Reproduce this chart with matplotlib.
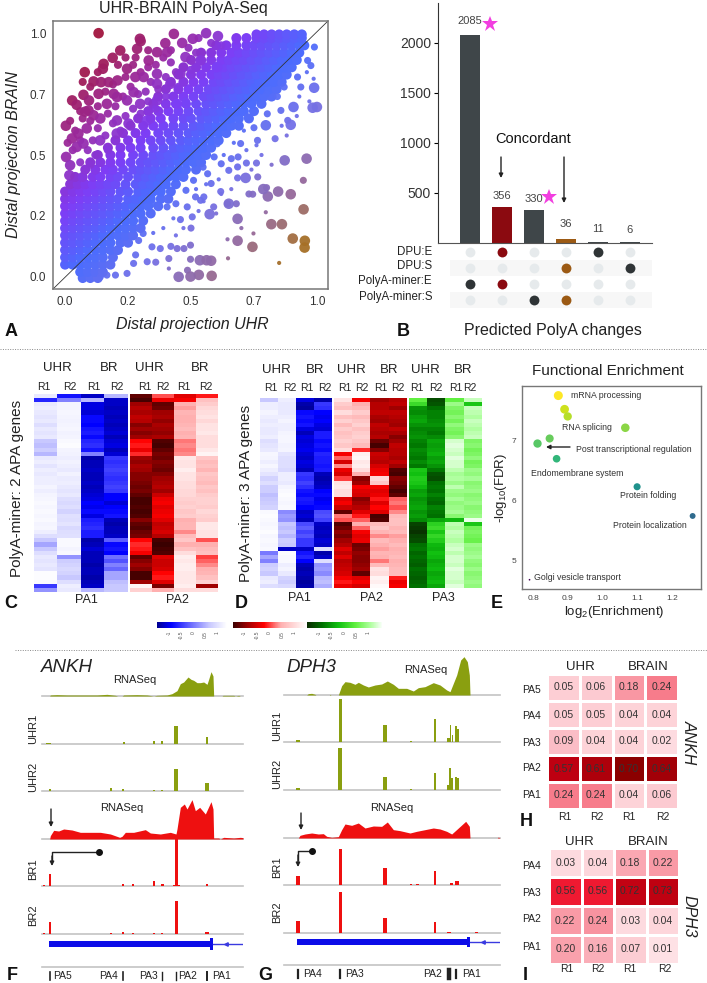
import numpy as np
import matplotlib
matplotlib.use('Agg')
import matplotlib.pyplot as plt
from matplotlib.colors import LinearSegmentedColormap, Normalize
from matplotlib.cm import ScalarMappable

plt.rcParams['font.family'] = ['Liberation Sans', 'DejaVu Sans']
plt.rcParams['mathtext.default'] = 'regular'

W, H = 707, 983

# A: scatter. rows of the solid body first (y: x values)
body_rows = {
    -0.005: [.07, .10, .13],
    0.02: [.06, .09, .12, .15],
    0.05: [.0, .03, .06, .09, .12, .15, .18],
    0.08: [.0, .03, .06, .09, .12, .15, .19],
    0.11: [.0, .03, .06, .09, .12, .15, .18, .21],
    0.14: [.0, .03, .06, .09, .12, .15, .18, .22, .25],
    0.17: [.0, .03, .06, .09, .12, .15, .18, .21, .24, .27],
    0.20: [.0, .03, .06, .09, .12, .15, .18, .21, .24, .27, .30],
    0.23: [.0, .03, .06, .09, .12, .15, .18, .21, .24, .27, .31],
    0.26: [.0, .03, .06, .09, .12, .15, .18, .21, .24, .27, .30, .34],
    0.29: [.0, .03, .06, .09, .12, .15, .18, .21, .24, .27, .30, .33, .37],
    0.32: [.0, .03, .06, .09, .12, .15, .18, .21, .25, .28, .31, .34, .38, .41],
    0.35: [.0, .03, .06, .09, .12, .15, .18, .22, .25, .29, .32, .35, .38, .42],
    0.38: [.02, .05, .08, .11, .14, .17, .20, .24, .28, .31, .34, .37, .40, .44],
    0.41: [.04, .07, .11, .14, .18, .21, .25, .29, .32, .35, .38, .41, .44, .47],
    0.44: [.08, .12, .16, .19, .23, .27, .30, .33, .36, .39, .42, .45, .48, .52],
    0.47: [.10, .14, .18, .22, .26, .30, .33, .36, .39, .42, .45, .48, .51, .54],
    0.50: [.13, .18, .22, .27, .31, .35, .38, .41, .44, .47, .50, .53, .56],
    0.53: [.17, .22, .26, .30, .35, .39, .43, .46, .49, .52, .55, .58],
    0.56: [.20, .25, .30, .34, .38, .42, .46, .49, .52, .55, .58, .61],
    0.59: [.23, .28, .32, .37, .41, .45, .49, .52, .55, .58, .61, .64],
    0.62: [.26, .31, .35, .39, .43, .47, .51, .54, .57, .60, .63, .66, .69],
    0.65: [.29, .34, .38, .43, .47, .50, .54, .57, .60, .63, .66, .69, .73],
    0.68: [.33, .37, .41, .45, .49, .53, .56, .59, .62, .65, .68, .71, .75],
    0.71: [.35, .40, .44, .48, .52, .56, .59, .62, .65, .68, .71, .74, .78],
    0.74: [.37, .43, .47, .51, .55, .58, .61, .64, .67, .70, .73, .76, .79, .82],
    0.77: [.40, .45, .49, .53, .57, .60, .63, .66, .69, .72, .75, .78, .81, .84],
    0.80: [.42, .47, .51, .55, .59, .62, .65, .68, .71, .74, .77, .80, .83, .86],
    0.83: [.45, .50, .54, .58, .61, .64, .67, .70, .73, .76, .79, .82, .85, .88],
    0.86: [.47, .52, .56, .60, .63, .66, .69, .72, .75, .78, .81, .84, .87, .90],
    0.89: [.50, .54, .58, .62, .65, .68, .71, .74, .77, .80, .83, .86, .89, .92],
    0.92: [.54, .58, .62, .66, .69, .72, .75, .78, .81, .84, .87, .90, .93],
    0.95: [.60, .64, .68, .72, .75, .78, .81, .84, .87, .90, .93, .95],
    0.98: [.68, .72, .76, .79, .82, .85, .88, .91, .94],
    0.995: [.76, .79, .82, .85, .88, .91, .94],
}
big_pts = [(.133, 1.0), (.297, .977), (.30, .967), (.286, .936), (.219, .929), (.189, .899), (.153, .874), (.15, .854),
           (.078, .84), (.113, .802), (.143, .799), (.173, .799), (.073, .747), (.028, .724), (.046, .706), (.095, .724),
           (.133, .751), (.193, .751), (.003, .62), (.432, .997), (.398, .959), (.465, .96), (.365, .922), (.405, .922),
           (.507, .977), (.56, 1.0), (.607, .988), (.332, .888), (.246, .854), (.279, .82), (.208, .806), (.272, .758),
           (.206, .738), (.246, .724), (.093, .683), (.113, .663), (.08, .678), (.14, .65), (.086, .609), (.053, .588),
           (.027, .568), (.004, .492), (.02, .458), (.017, .417), (.046, .533), (.073, .547), (.139, .56), (.205, .588),
           (.252, .629), (.325, .642), (.365, .724), (.418, .792), (.458, .833), (.365, .833), (.478, .902), (.538, .888),
           (.604, .861), (.166, .71), (.312, .82), (.365, .792), (.445, .71), (.206, .642), (.298, .71),
           (.989, .776), (1.0, .697), (.983, .694), (.896, .624), (.797, .622), (.907, .697), (.872, .478), (.959, .485),
           (.896, .339), (.947, .277), (.861, .216), (.819, .216), (.685, .238), (.904, .157), (.952, .148), (.951, .12),
           (.744, .123), (.685, .148), (.58, .066), (.535, .068), (.562, .068), (.582, .004), (.531, .008), (.498, .001),
           (.451, .0), (.574, .257), (.65, .3), (.717, .406), (.805, .33), (.787, .36), (.846, .35)]
extra_pts = [(.06, .56), (.09, .52), (.12, .5), (.03, .52), (.06, .47), (.1, .46), (.14, .47), (.17, .52), (.2, .56), (.11, .56),
             (.16, .58), (.22, .6), (.19, .63), (.24, .66), (.27, .69), (.3, .67), (.13, .61), (.17, .67), (.2, .7), (.23, .74),
             (.26, .78), (.29, .75), (.32, .76), (.34, .8), (.3, .84), (.27, .87), (.33, .86), (.36, .87), (.39, .9), (.42, .88),
             (.37, .77), (.33, .72), (.1, .64), (.07, .65), (.24, .82), (.21, .87), (.24, .9), (.28, .9), (.33, .93), (.42, .93),
             (.44, .84), (.4, .82), (.4, .74), (.36, .69), (.49, .94), (.52, .92), (.13, .7), (.16, .76), (.19, .79), (.13, .84),
             (.1, .78), (.07, .8), (.06, .68), (.02, .64), (.04, .6), (.01, .55), (.5, .85), (.53, .98), (.58, .96), (.62, .95),
             (.68, .97), (.45, .78), (.48, .72)]
mid_pts = [(.99, .943), (.946, .396), (.834, .567), (.645, .3), (.498, .072), (.486, .027), (.412, .075), (.36, .06),
           (.326, .062), (.28, .09), (.272, .055), (.246, .014), (.2, .007), (.166, .007), (.14, .0), (.445, .116),
           (.472, .116), (.498, .13), (.42, .125), (.345, .123), (.378, .116), (.292, .149), (.31, .178), (.5, .2),
           (.458, .235), (.505, .246), (.538, .314), (.518, .328), (.485, .287), (.68, .3), (.73, .34), (.745, .339),
           (.8, .366), (.685, .406), (.765, .41), (.685, .451), (.65, .437), (.76, .467), (.72, .467), (.687, .492),
           (.66, .485), (.62, .464), (.592, .492), (.566, .423), (.548, .45), (.58, .383), (.59, .287), (.618, .35),
           (.551, .328), (.48, .355), (.44, .3), (.405, .287), (.348, .3), (.46, .41), (.51, .396), (.697, .547),
           (.764, .56), (.75, .612), (.803, .669), (.857, .683), (.884, .642), (.843, .74), (.763, .724), (.724, .656),
           (.67, .62), (.604, .546), (.644, .642), (.963, .888), (.976, .867), (.923, .82), (.87, .779), (.83, .806),
           (.883, .85), (.936, .779), (.8, .75), (.75, .78), (.7, .83)]
small_pts = [(.987, .813), (.797, .265), (.85, .057), (.645, .154), (.647, .076), (.748, .178), (.412, .034), (.7, .2),
             (.62, .34), (.56, .38), (.53, .27), (.47, .2), (.44, .17), (.39, .2), (.35, .18), (.61, .4), (.66, .36),
             (.74, .44), (.82, .46), (.78, .5), (.72, .52), (.67, .55), (.63, .5), (.88, .58), (.92, .66), (.93, .74),
             (.86, .62), (.76, .54), (.55, .31), (.6, .26), (.43, .24), (.52, .36), (.71, .6), (.96, .84), (.97, .72)]

# B: upset plot
upset_counts = [2085, 356, 330, 36, 11, 6]
upset_sets = ['DPU:E', 'DPU:S', 'PolyA-miner:E', 'PolyA-miner:S']
upset_members = [[2], [0, 2], [3], [1, 3], [0], [1]]
upset_colors = ['#3f4649', '#8b0a10', '#3f4649', '#9c5a14', '#3f4649', '#3f4649']
dot_colors = ['#2f3436', '#8b0a10', '#2f3436', '#9c5a14', '#2f3436', '#2f3436']
upset_ticks = [0, 500, 1000, 1500, 2000]

# C: row-wise z values (R1 R2 R1 R2)
c_pa1 = [[.8, -.5, -.8, .4], [-.4, .1, .4, -.8], [.8, .9, -.7, -.8], [.85, .9, -.7, -.85], [.8, .92, -.75, -.8],
         [.75, .9, -.55, -.85], [.8, .88, -.55, -.8], [.7, .9, -.6, -.85], [.8, .92, -.5, -.8], [.75, .88, -.45, -.75],
         [.8, .9, -.55, -.85], [.5, .95, -.4, -.75], [.45, .97, -.35, -.7], [.55, .9, -.5, -.85], [.4, .88, .1, -.75],
         [.8, .85, -.9, -.3], [.85, .88, -.85, -.35], [.75, .85, -.85, -.3], [.85, .8, -.8, -.25], [.8, .88, -.85, -.3],
         [.85, .82, -.85, -.35], [.85, .85, -.8, -.3], [.9, .8, -.85, -.25], [.85, .75, -.8, -.3], [.9, .8, -.75, -.6],
         [.92, .7, -.7, -.6], [.95, .65, -.6, -.75], [.92, .7, -.65, -.6], [.95, .6, -.55, -.55], [.92, .72, -.7, -.5],
         [.95, .7, -.45, -.85], [.9, .75, -.4, -.9], [.92, .65, -.35, -.85], [.85, .7, -.45, -.85], [.7, .72, -.45, -.8],
         [.5, .95, -.9, -.1], [.3, .95, -.85, -.55], [.5, .9, -.75, -.5], [.7, .93, -.85, -.6], [.8, .2, -.85, .0],
         [.75, .55, -.85, -.15], [.8, .6, -.9, .1], [.75, .65, -.85, -.05], [.97, .6, -.85, .3], [.97, .5, -.9, .3],
         [.95, .7, -.85, .45], [-.3, .85, -.8, .5], [.2, .8, .4, .5]]
c_pa2 = [[-.85, .05, -.3, -.1], [-.95, -.25, -.2, .45], [-.6, -.85, .3, .55], [-.5, -.8, .25, .65], [-.55, -.6, .35, .7],
         [-.45, -.55, .3, .75], [-.5, -.65, .3, .65], [-.7, -.55, .35, .75], [-.6, -.6, .4, .75], [-.7, -.65, .3, .8],
         [-.6, -.55, .35, .7], [-.15, -.9, .15, .7], [-.1, -.95, .2, .7], [-.25, -.85, .15, .8], [-.05, -.75, .2, .9],
         [-.6, -.8, .8, .5], [-.65, -.7, .75, .4], [-.55, -.75, .75, .45], [-.6, -.8, .85, .35], [-.7, -.7, .75, .5],
         [-.7, -.6, .75, .45], [-.75, -.55, .7, .4], [-.8, -.5, .7, .5], [-.75, -.6, .65, .45], [-.85, -.4, .65, .55],
         [-.95, -.25, .6, .6], [-.95, -.2, .55, .6], [-.9, -.3, .6, .55], [-.95, -.25, .5, .65], [-.9, -.2, .55, .6],
         [-.7, -.3, .3, .55], [-.85, -.45, .35, .8], [-.9, -.4, .35, .8], [-.8, -.35, .2, .75], [-.75, -.5, .4, .75],
         [-.15, -.95, .5, .05], [-.05, -1.0, .3, .3], [-.1, -.95, .45, .4], [-.2, -.9, .7, .45], [-.85, -.3, .85, .0],
         [-.7, -.4, .8, .1], [-.6, -.4, .85, .2], [-.7, -.35, .85, .3], [-.95, -.15, .8, .35], [-.95, -.1, .8, .45],
         [-.6, -.3, .8, .6], [.9, -.75, .85, -.6], [.6, .3, .7, .7]]

# D
d_pa1 = [[.5, .85, -.7, -.9], [.85, .8, -.9, -.3], [.85, .8, -.95, -.35], [.9, .8, -.55, -.6], [.85, .85, -.5, -.65],
         [.8, .9, -.55, -.6], [.85, .85, -.5, -.7], [.8, .85, -.7, -.75], [.8, .9, -.85, -.45], [.85, .92, -.7, -.45],
         [.7, .92, -.75, -.55], [.75, .88, -.7, -.5], [.8, .9, -.65, -.55], [.92, .75, -.75, -.4], [.9, .7, -.8, -.45],
         [.85, .7, -.7, -.45], [.92, .7, -.75, -.5], [.85, .65, -.85, -.45], [.75, .85, -.3, -.85], [.6, .85, -.35, -.9],
         [.7, .8, -.25, -.85], [.55, .9, -.35, -.8], [.55, .95, -.5, -.6], [.45, .97, -.55, -.55], [.5, .95, -.45, -.65],
         [.55, .92, -.5, -.6], [.6, .95, -.6, -.55], [.95, .15, -.8, -.2], [.97, .25, -.75, -.15], [.95, .2, -.85, -.25],
         [.92, .5, -.2, -.8], [.95, .45, -.1, -.85], [.97, .5, -.25, -.8], [.92, .4, -.15, -.85], [.95, .55, -.3, -.75],
         [.92, .5, -.3, -.8], [.95, -.8, -.8, .7], [.05, .97, -.5, -.9], [.3, .95, -.4, -.8], [.1, .95, -.6, .7],
         [.55, .85, -.85, .2], [.6, .9, -.9, .25], [.5, .8, -.85, .15], [.8, .6, -.9, .4], [.85, .55, -.95, .45], [.7, .65, -.9, .35]]
d_pa2 = [[.75, -.2, -.6, -.5], [.55, .3, -.5, -.45], [.45, .4, -.5, -.6], [.7, .55, -.45, -.45], [.45, .4, -.55, -.5],
         [.6, .5, -.6, -.55], [.4, .6, -.45, -.6], [.55, .45, -.5, -.45], [.45, .55, -.55, -.55], [.5, .6, -.5, -.7],
         [.6, .5, -.8, -.6], [.5, .4, -.95, -.45], [.7, -.05, -.7, -.5], [-.2, .85, -.4, -.5], [.1, .9, -.45, -.55],
         [-.35, .8, -.5, -.45], [.2, .85, -.35, -.6], [-.25, .7, -.25, -.9], [-.35, .3, -.2, -.95], [.0, -.7, .65, -.7],
         [.75, -.6, .5, -.75], [.8, -.2, -.2, -.85], [.7, -.3, -.3, -.95], [.7, -.35, -.25, -.85], [-.3, -.7, -.1, .1],
         [-.2, -.6, -.3, .15], [-.4, -.5, -.15, .05], [-.85, -.3, -.3, .2], [.15, -.1, -.95, .4], [.05, .1, -.9, .45],
         [-.9, .3, .4, .45], [-.8, .1, .5, .35], [-.65, -.2, .35, .4], [-.75, -.3, .2, .25], [-.6, -.25, .4, .3],
         [-.5, -.8, .3, .4], [-.3, -.75, .25, .3], [-.45, -.65, .35, .35], [-.3, -.7, .3, .4], [-.5, -.7, .15, .3],
         [-.45, -.65, .4, .35], [-.4, -.6, .75, .4], [-.35, -.85, .7, .4], [-.2, -.3, .9, -.1], [-.1, -.2, .85, -.25], [-.25, -.35, .95, -.2]]
d_pa3 = [[.3, -.8, .3, .8], [.1, -.75, .6, -.1], [-.4, -.6, .45, .8], [-.45, -.5, .4, .75], [-.35, -.5, .5, .7],
         [-.3, -.45, .4, .8], [-.4, -.4, .55, .75], [-.5, -.5, .45, .7], [-.45, -.55, .4, .75], [-.4, -.45, .5, .8],
         [-.5, -.3, .85, .45], [-.55, -.35, .9, .5], [-.45, -.3, .85, .4], [-.5, -.25, .8, .45], [-.55, -.35, .9, .55],
         [-.45, -.3, .85, .4], [-.55, -.4, .85, .45], [-.1, -.55, .75, .6], [-.15, -.75, .65, .55], [-.05, -.8, .7, .65],
         [-.1, -.6, .6, .5], [-.2, -.55, .75, .55], [-.35, -.6, .6, .6], [-.3, -.5, .55, .5], [-.4, -.6, .65, .55],
         [-.35, -.65, .55, .6], [-.3, -.5, .6, .5], [-.4, -.55, .65, .55], [-.35, -.6, .5, .6], [-.45, -.3, -.2, .95],
         [-.85, .0, .75, -.1], [-.9, .1, .7, .4], [-.95, -.1, .8, .45], [-.85, .05, .75, .4], [-.8, -.05, .7, .35],
         [-.6, -.2, .8, .6], [-.55, -.25, .85, .55], [-.65, -.15, .75, .6], [-.6, -.2, .85, .65], [-.65, -.3, .85, .55],
         [-.7, -.25, .8, .5], [-.6, -.2, .9, .6], [-.65, -.3, .85, .5], [-.7, -.25, .85, .55], [-.65, -.2, .8, .6], [-.6, -.3, .9, .55]]
heat_ticks = [-1, -0.5, 0, 0.5, 1]

# E: enrichment
enrich_x = [.873, .891, .90, 1.066, .848, .813, .868, 1.10, 1.26, .79]
enrich_y = [7.76, 7.53, 7.41, 7.22, 7.04, 6.955, 6.70, 6.23, 5.74, 4.67]
enrich_s = [42, 40, 36, 38, 34, 36, 30, 26, 18, 1.5]

# F/G: coverage (x position, height) and peaks (position, width, height), same units as the x range of the track
ankh_rna1_x = [148, 150, 170, 200, 250, 290, 320, 345, 352, 365, 370, 410, 440, 460, 470, 500, 515, 530, 540, 550, 563, 572,
               580, 590, 600, 610, 620, 625, 632, 638, 640, 665, 668, 700, 705, 715, 720]
ankh_rna1_y = [0, 3, 4, 3, 3, 3, 5, 2, 0, 0, 3, 4, 3, 0, 2, 3, 7, 16, 37, 42, 57, 50, 47, 40, 40, 42, 35, 50, 73, 60, 0, 0, 2, 2, 0, 2, 0]
ankh_rna2_x = [148, 150, 160, 175, 190, 215, 240, 270, 300, 330, 358, 365, 375, 400, 435, 450, 480, 510, 527, 530, 540, 552,
               560, 575, 585, 598, 615, 632, 638, 640, 655, 660, 670, 700, 720, 728]
ankh_rna2_y = [0, 10, 26, 24, 30, 27, 20, 20, 20, 15, 5, 8, 20, 20, 28, 18, 15, 20, 15, 30, 95, 105, 90, 118, 85, 95, 75, 112, 90, 3, 3, 0, 5, 3, 5, 4]
ankh_uhr1 = [(145, 15, 2), (370, 6, 7), (461, 6, 8), (485, 8, 8), (527, 10, 55), (620, 8, 22)]
ankh_uhr2 = [(150, 6, 6), (331, 6, 9), (369, 6, 6), (461, 6, 4), (485, 6, 4), (527, 10, 66), (620, 10, 25)]
ankh_br1 = [(131, 6, 4), (150, 6, 37), (369, 6, 7), (398, 5, 5), (461, 8, 16), (486, 8, 7), (528, 20, 3), (528, 10, 142), (620, 5, 7)]
ankh_br2 = [(131, 5, 3), (150, 6, 36), (331, 5, 2), (369, 6, 6), (398, 5, 4), (461, 6, 4), (486, 6, 3), (528, 10, 98), (620, 10, 6)]

dph3_rna1_x = [110, 115, 125, 135, 138, 178, 180, 183, 205, 215, 225, 240, 255, 265, 280, 295, 315, 335, 352, 370, 385, 410, 430,
               445, 465, 490, 510, 530, 540, 548, 560, 572, 582, 592, 598, 600]
dph3_rna1_y = [0, 4, 5, 2, 0, 0, 2, 0, 0, 28, 40, 38, 32, 38, 30, 24, 30, 33, 42, 32, 20, 20, 12, 22, 25, 37, 30, 15, 10, 30, 60, 105, 115, 100, 60, 0]
dph3_rna2_x = [85, 90, 105, 125, 145, 160, 170, 185, 205, 215, 225, 245, 265, 285, 310, 335, 352, 370, 390, 420, 440, 465, 490,
               510, 530, 545, 565, 587, 598, 600, 682, 685, 690]
dph3_rna2_y = [0, 8, 12, 15, 12, 13, 5, 2, 4, 25, 42, 38, 45, 30, 36, 35, 48, 25, 22, 15, 20, 25, 30, 27, 20, 12, 30, 50, 35, 0, 0, 3, 0]
dph3_uhr1 = [(84, 10, 6), (211, 10, 130), (346, 12, 50), (422, 6, 3), (495, 8, 70), (536, 8, 12), (541, 5, 50), (547, 5, 20), (558, 8, 48), (563, 6, 40)]
dph3_uhr2 = [(84, 10, 7), (211, 12, 125), (346, 12, 38), (422, 6, 4), (495, 8, 50), (536, 8, 15), (540, 5, 65), (546, 5, 35), (558, 8, 40), (563, 6, 35)]
dph3_br1 = [(84, 10, 28), (212, 10, 108), (346, 12, 52), (422, 7, 3), (442, 10, 3), (495, 8, 42), (544, 10, 5), (560, 12, 11)]
dph3_br2 = [(84, 10, 37), (212, 10, 122), (346, 12, 45), (495, 8, 32), (537, 10, 4), (620, 8, 3)]

# H/I
ankh_labels = ['PA5', 'PA4', 'PA3', 'PA2', 'PA1']
ankh_usage = [[.05, .06, .18, .24], [.05, .05, .04, .04], [.09, .04, .04, .02], [.57, .61, .70, .64], [.24, .24, .04, .06]]
dph3_labels = ['PA4', 'PA3', 'PA2', 'PA1']
dph3_usage = [[.03, .04, .18, .22], [.56, .56, .72, .73], [.22, .24, .03, .04], [.20, .16, .07, .01]]
reps = ['R1', 'R2', 'R1', 'R2']

fig = plt.figure(figsize=(W / 100, H / 100), dpi=100)


def ax_px(x0, y0, x1, y1, **kw):
    return fig.add_axes([x0 / W, 1 - y1 / H, (x1 - x0) / W, (y1 - y0) / H], **kw)


ov = ax_px(0, 0, W, H, zorder=20)
ov.set_xlim(0, W)
ov.set_ylim(H, 0)
ov.axis('off')
ov.patch.set_alpha(0)


def txt(x, y, s, size=8, ha='center', va='center', **kw):
    kw.setdefault('color', '#222222')
    ov.text(x, y, s, fontsize=size, ha=ha, va=va, **kw)


def arrow(x0, y0, x1, y1, lw=1.0, head=6):
    ov.annotate('', xy=(x1, y1), xytext=(x0, y0),
                arrowprops=dict(arrowstyle='-|>', color='#222222', lw=lw, mutation_scale=head, shrinkA=0, shrinkB=0))


def letter(x, y, s):
    txt(x, y, s, size=13, fontweight='bold', color='#111111')


# ---- A
ax = ax_px(53, 21, 328, 289)
diag_cmap = LinearSegmentedColormap.from_list('diag', [(0.0, '#a8701a'), (0.1, '#a5702a'), (0.22, '#96689a'), (0.36, '#7470e6'),
                                                       (0.5, '#4a6cff'), (0.64, '#7f3cf5'), (0.76, '#9a2aa0'), (0.88, '#a01a50'),
                                                       (1.0, '#a30f28')])
bx = [x for y in body_rows for x in body_rows[y]]
by = [y for y in body_rows for x in body_rows[y]]
groups = [(bx, by, 52, 1.0),
          ([p[0] for p in extra_pts], [p[1] for p in extra_pts], 34, 0.95),
          ([p[0] for p in mid_pts], [p[1] for p in mid_pts], 26, 0.95),
          ([p[0] for p in small_pts], [p[1] for p in small_pts], 9, 0.95),
          ([p[0] for p in big_pts], [p[1] for p in big_pts], 58, 0.95)]
for gx, gy, s, al in groups:
    gx, gy = np.array(gx), np.array(gy)
    ax.scatter(gx, gy, s=s, c=gy - gx, cmap=diag_cmap, vmin=-1, vmax=1, alpha=al, linewidths=0)
ax.plot([0, 1], [0, 1], transform=ax.transAxes, color='#333333', lw=0.6)
ax.set_xlim(-0.048, 1.044)
ax.set_ylim(-0.05, 1.05)
ax.set_xticks([0, .25, .5, .75, 1])
ax.set_xticklabels(['0.0', '0.2', '0.5', '0.7', '1.0'])
ax.set_yticks([0, .25, .5, .75, 1])
ax.set_yticklabels(['0.0', '0.2', '0.5', '0.7', '1.0'])
ax.tick_params(length=0, labelsize=8.5, labelcolor='#333333', pad=5)
for sp in ax.spines.values():
    sp.set_color('#777777')
    sp.set_linewidth(1.1)
txt(183, 9, 'UHR-BRAIN PolyA-Seq', size=11.5)
txt(192, 325, 'Distal projection UHR', size=11.5, style='italic')
txt(14, 155, 'Distal projection BRAIN', size=11.5, style='italic', rotation=90)
letter(11, 332, 'A')

# ---- B
ax = ax_px(438, 3, 652, 243)
ax.bar(range(6), upset_counts, width=0.6, color=upset_colors)
ax.set_xlim(-1, 5.69)
ax.set_ylim(0, 2400)
ax.set_yticks(upset_ticks[1:])
ax.set_xticks([])
ax.tick_params(axis='y', labelsize=10, labelcolor='#333333', length=3, width=0.8, pad=2)
for sp in ['top', 'right']:
    ax.spines[sp].set_visible(False)
ax.spines['left'].set_color('#333333')
ax.spines['bottom'].set_color('#555555')
for i, v in enumerate(upset_counts):
    off = {0: 130, 1: 110, 2: 115, 3: 150, 4: 125, 5: 125}[i]
    ax.text(i, v + off, str(v), ha='center', va='center', fontsize=8, color='#444444')
ax.plot([0.63, 2.47], [2190, 465], ls='', marker='*', ms=12, color='#f23ee0', mew=0)

ax = ax_px(438, 245, 652, 308)
ax.set_xlim(-1, 5.69)
ax.set_ylim(3.5, -0.45)
ax.axis('off')
for r in [1, 3]:
    ax.axhspan(r - 0.48, r + 0.48, xmin=(450 - 438) / 214, color='#f7f7f7', lw=0)
for c in range(6):
    ax.scatter([c] * 4, range(4), s=50, color='#e6eaec', linewidths=0)
    ax.scatter([c] * len(upset_members[c]), upset_members[c], s=50, color=dot_colors[c], linewidths=0)
for r, lab in zip([252, 266, 281, 297], upset_sets):
    txt(432, r, lab, size=8.3, ha='right')
txt(533, 139, 'Concordant', size=10.5, color='#111111')
arrow(501, 157, 501, 178)
arrow(564, 157, 564, 203)
txt(553, 331, 'Predicted PolyA changes', size=11.5)
letter(403, 332, 'B')

# dotted separators
ov.plot([0, W], [349, 349], color='#888888', lw=0.7, ls=(0, (1, 1.5)))
ov.plot([15, W], [650, 650], color='#888888', lw=0.7, ls=(0, (1, 1.5)))

# ---- C, D
blue_cmap = LinearSegmentedColormap.from_list('b', [(0, '#000090'), (.2, '#0000ff'), (.5, '#7070ff'), (.75, '#c8c8ff'), (1, '#ffffff')])
red_cmap = LinearSegmentedColormap.from_list('r', [(0, '#3a0000'), (.2, '#a00000'), (.42, '#ff0000'), (.65, '#ffb0b0'), (1, '#ffffff')])
green_cmap = LinearSegmentedColormap.from_list('g', [(0, '#0a2a00'), (.2, '#007000'), (.42, '#10c010'), (.65, '#60f040'), (.85, '#b0ffa0'), (1, '#f8fff8')])


def heat(x0, y0, x1, y1, data, cmap):
    a = ax_px(x0, y0, x1, y1)
    a.imshow(np.array(data), cmap=cmap, vmin=-1, vmax=1, aspect='auto', interpolation='nearest')
    a.axis('off')


heat(34, 394, 128, 592, c_pa1, blue_cmap)
heat(129.5, 394, 217, 592, c_pa2, red_cmap)
heat(260, 398, 332, 588, d_pa1, blue_cmap)
heat(334, 398, 407, 588, d_pa2, red_cmap)
heat(409, 398, 482, 588, d_pa3, green_cmap)

for x, s in zip([57, 109, 149, 200], ['UHR', 'BR', 'UHR', 'BR']):
    txt(x, 368, s, size=9.5)
for x, s in zip([44, 70, 94, 117, 145, 163, 184, 206], reps * 2):
    txt(x, 387, s, size=7.5)
txt(17, 488, 'PolyA-miner: 2 APA genes', size=11, rotation=90)
txt(86, 600, 'PA1', size=9)
txt(177, 600, 'PA2', size=9)
for x, s in zip([276, 315, 351, 389, 425, 463], ['UHR', 'BR', 'UHR', 'BR', 'UHR', 'BR']):
    txt(x, 370, s, size=9.5)
for x, s in zip([271, 290, 307, 325, 345, 362, 381, 398, 417, 436, 456, 470], reps * 3):
    txt(x, 388, s, size=7.5)
txt(246, 493, 'PolyA-miner: 3 APA genes', size=11, rotation=90)
txt(299, 598, 'PA1', size=9)
txt(371, 598, 'PA2', size=9)
txt(443, 598, 'PA3', size=9)
letter(11, 604, 'C')
letter(241, 604, 'D')
letter(497, 604, 'E')

# colour keys
for x0, x1, cm, lo, hi in [(157, 227, blue_cmap, -1.5, 1.4), (233, 307, red_cmap, -1.45, 1.5), (307, 382, green_cmap, -1.5, 1.55)]:
    cax = ax_px(x0, 622, x1, 628)
    cb = fig.colorbar(ScalarMappable(Normalize(lo, hi), cm), cax=cax, orientation='horizontal')
    cb.set_ticks(heat_ticks)
    cb.set_ticklabels(['-1', '-0.5', '0', '0.5', '1'])
    cb.ax.tick_params(length=0, labelsize=3.5, labelrotation=90, pad=2, labelcolor='#555555')
    cb.outline.set_visible(False)

# ---- E
ax = ax_px(522, 386, 701, 589)
ax.scatter(enrich_x, enrich_y, s=enrich_s, c=enrich_y, cmap='viridis', vmin=4.67, vmax=7.76, linewidths=0)
ax.set_xlim(0.8 - 11 / 347, 0.8 + 168 / 347)
ax.set_ylim(5 - 29 / 59.75, 7 + 55 / 59.75)
ax.set_xticks([.8, .9, 1.0, 1.1, 1.2])
ax.set_yticks([5, 6, 7])
ax.tick_params(length=0, labelsize=6, labelcolor='#444444', pad=4)
for sp in ax.spines.values():
    sp.set_color('#777777')
    sp.set_linewidth(1.0)
txt(608, 371, 'Functional Enrichment', size=11)
txt(614, 612, 'log$_2$(Enrichment)', size=9.5)
txt(501, 488, '-log$_{10}$(FDR)', size=9.5, rotation=90)
for x, y, s in [(571, 395, 'mRNA processing'), (562, 428, 'RNA splicing'), (576, 449, 'Post transcriptional regulation'),
                (531, 474, 'Endomembrane system'), (620, 496, 'Protein folding'), (613, 525, 'Protein localization'),
                (534, 577, 'Golgi vesicle transport')]:
    txt(x, y, s, size=6.3, ha='left', color='#333333')
arrow(570, 447, 546, 447, lw=1.0)


# ---- F, G tracks
def track(x0, x1, y0, y1, xr, base_col='#c4c4c4'):
    a = ax_px(x0, y0, x1, y1)
    a.set_xlim(*xr)
    a.set_ylim(0, (y1 - y0) * 3)
    a.axis('off')
    a.axhline(0, color=base_col, lw=1.2, zorder=1, clip_on=False)
    return a


def peaks(a, data, color):
    for p, w, h in data:
        a.bar(p, h, width=w, color=color, linewidth=0, zorder=2)


olive, red = '#8a9f10', '#ee1010'
fr = (125, 728)
a = track(42, 243, 655, 696, fr)
a.fill_between(ankh_rna1_x, ankh_rna1_y, color=olive, lw=0, zorder=2)
a = track(42, 243, 700, 744, fr)
peaks(a, ankh_uhr1, olive)
a = track(42, 243, 750, 791, fr)
peaks(a, ankh_uhr2, olive)
a = track(42, 243, 798, 839, fr)
a.fill_between(ankh_rna2_x, ankh_rna2_y, color=red, lw=0, zorder=2)
a = track(42, 243, 839, 886, fr)
peaks(a, ankh_br1, red)
a = track(42, 243, 895, 934, fr)
peaks(a, ankh_br2, red)

a = track(42, 243, 936, 967, fr)
a.barh(69, 632 - 147, left=147, height=20, color='#0c0ce8', lw=0)
a.barh(69, 9, left=630, height=34, color='#0c0ce8', lw=0)
a.plot([638, 726], [69, 69], color='#3a3ae0', lw=1)
a.plot([678], [69], marker='<', ms=2.5, color='#3a3ae0')

gr = (42, 690)
a = track(284, 500, 650, 695, gr)
a.fill_between(dph3_rna1_x, dph3_rna1_y, color=olive, lw=0, zorder=2)
a = track(284, 500, 696, 742, gr)
peaks(a, dph3_uhr1, olive)
a = track(284, 500, 748, 790, gr)
peaks(a, dph3_uhr2, olive)
a = track(284, 500, 800, 838, gr)
a.fill_between(dph3_rna2_x, dph3_rna2_y, color=red, lw=0, zorder=2)
a = track(284, 500, 846, 885, gr)
peaks(a, dph3_br1, red)
a = track(284, 500, 890, 933, gr)
peaks(a, dph3_br2, red)

a = track(284, 500, 936, 965, gr)
a.barh(69, 595 - 81, left=81, height=20, color='#0c0ce8', lw=0)
a.barh(69, 8, left=592, height=32, color='#0c0ce8', lw=0)
a.plot([600, 690], [69, 69], color='#3a3ae0', lw=1)
a.plot([638], [69], marker='<', ms=2.5, color='#3a3ae0')

txt(67, 668, 'ANKH', size=13.5, style='italic')
txt(135, 680, 'RNASeq', size=8)
txt(122, 808, 'RNASeq', size=8)
for y, s in [(729, 'UHR1'), (777, 'UHR2'), (869, 'BR1'), (915, 'BR2')]:
    txt(33, y, s, size=8, rotation=90)
arrow(51, 809, 51, 827)
ov.plot([99, 52, 52], [852, 852, 860], color='#222222', lw=1)
ov.plot([99], [852], marker='o', ms=4, color='#111111')
arrow(52, 856, 52, 866)
for x, s in [(63, 'PA5'), (108, 'PA4'), (148, 'PA3'), (188, 'PA2'), (222, 'PA1')]:
    txt(x, 976, s, size=7.5)
for x, w in [(50, 1.2), (123, 1.2), (162, 1.0), (176, 1.0), (207, 1.4)]:
    ov.plot([x, x], [972, 980], color='#222222', lw=w)
letter(12, 975, 'F')

txt(311, 668, 'DPH3', size=13.5, style='italic')
txt(426, 670, 'RNASeq', size=8)
txt(392, 808, 'RNASeq', size=8)
for y, s in [(726, 'UHR1'), (774, 'UHR2'), (867, 'BR1'), (912, 'BR2')]:
    txt(277, y, s, size=8, rotation=90)
arrow(301, 813, 301, 830)
ov.plot([312, 298, 298], [851, 851, 860], color='#222222', lw=1)
ov.plot([312], [851], marker='o', ms=4, color='#111111')
arrow(298, 855, 298, 867)
for x, s in [(312, 'PA4'), (355, 'PA3'), (433, 'PA2'), (472, 'PA1')]:
    txt(x, 974, s, size=7.5)
for x, w in [(298, 1.6), (340, 1.6), (449, 3.2), (456, 1.6)]:
    ov.plot([x, x], [970, 978], color='#222222', lw=w)
letter(265, 975, 'G')

# ---- H, I
usage_cmap = LinearSegmentedColormap.from_list('u', [(0, '#fee3e7'), (.33, '#f7808f'), (.65, '#ee1028'), (.82, '#bd0010'), (1, '#8b0000')])


def usage(x0, y0, x1, y1, vals, vmax):
    a = ax_px(x0, y0, x1, y1)
    a.pcolormesh(np.array(vals)[::-1], cmap=usage_cmap, vmin=0, vmax=vmax, edgecolors='white', linewidth=1)
    for r, row in enumerate(vals[::-1]):
        for c, v in enumerate(row):
            a.text(c + .5, r + .5, '%.2f' % v, ha='center', va='center', fontsize=7.5, color='#333333')
    a.axis('off')


usage(547, 674, 678, 809, ankh_usage, 0.70)
usage(549, 848, 679, 964, dph3_usage, 0.90)

txt(580, 667, 'UHR', size=9.5)
txt(648, 667, 'BRAIN', size=9.5)
for x, s in zip([565, 597, 629, 663], reps):
    txt(x, 817, s, size=7.5)
for y, s in zip([690, 716, 743, 768, 795], ankh_labels):
    txt(541, y, s, size=7.5, ha='right')
txt(689, 742, 'ANKH', size=11.5, style='italic', rotation=-90)
letter(526, 821, 'H')

txt(579, 842, 'UHR', size=9.5)
txt(648, 842, 'BRAIN', size=9.5)
for x, s in zip([567, 598, 630, 665], reps):
    txt(x, 969, s, size=7.5)
for y, s in zip([866, 893, 919, 947], dph3_labels):
    txt(541, y, s, size=7.5, ha='right')
txt(689, 916, 'DPH3', size=11.5, style='italic', rotation=-90)
letter(525, 976, 'I')

fig.savefig('out.png', dpi=100)
